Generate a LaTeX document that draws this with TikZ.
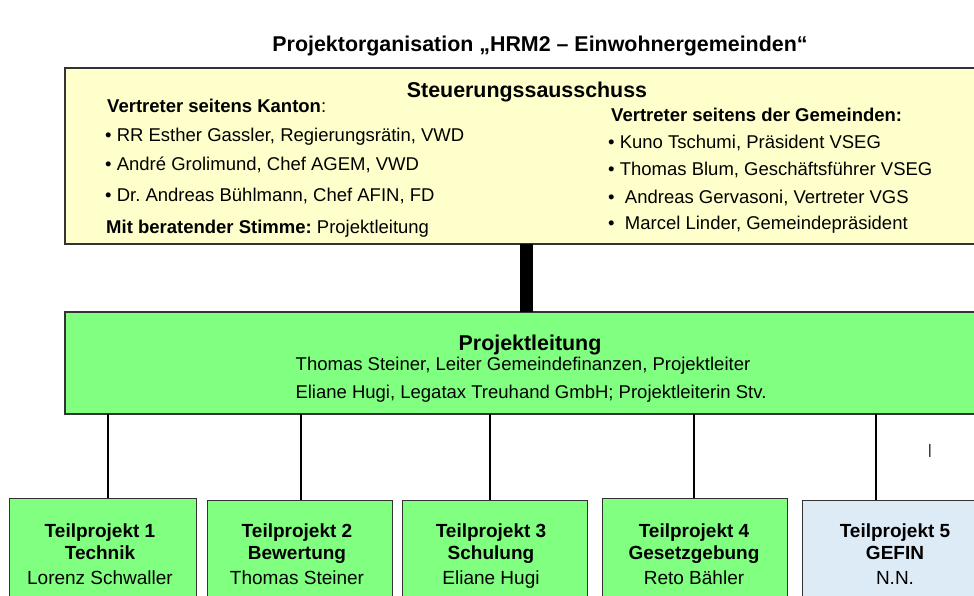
\documentclass[tikz,border=0pt]{standalone}
\usepackage{fontspec}
\setmainfont{Liberation Sans}
\frenchspacing
\definecolor{boxyellow}{HTML}{FFFFCC}
\definecolor{boxgreen}{HTML}{80FF80}
\definecolor{boxblue}{HTML}{DDEBF7}
\definecolor{edgegray}{HTML}{333333}
\begin{document}
\begin{tikzpicture}[x=1pt,y=-1pt,
  frame/.style={draw=edgegray, line width=1.6pt, inner sep=0pt, outer sep=0pt, anchor=north west},
  subbox/.style={draw=edgegray, line width=1pt, inner sep=0pt, outer sep=0pt, anchor=north west, minimum height=110pt},
  body/.style={font=\fontsize{18.5}{22}\selectfont, inner sep=0pt, anchor=base west},
  bodyc/.style={font=\fontsize{18.5}{22}\selectfont, inner sep=0pt, anchor=base},
  head/.style={font=\bfseries\fontsize{21.4}{25}\selectfont, inner sep=0pt, anchor=base},
  subhead/.style={font=\bfseries\fontsize{19}{22}\selectfont, inner sep=0pt, anchor=base},
  subtext/.style={font=\fontsize{19}{22}\selectfont, inner sep=0pt, anchor=base},
  link/.style={line width=2.6pt, black},
  bar/.style={line width=13pt, black}]
\useasboundingbox (0,0) rectangle (974,596);
\fill[white] (0,0) rectangle (974,596);

% title
\node[head] (title) at (540,52) {Projektorganisation „HRM2 – Einwohnergemeinden“};

% Steuerungsausschuss
\node[frame, fill=boxyellow, minimum width=920pt, minimum height=176pt] (st) at (65,68) {};
\node[head] (sttitle) at (527,97.5) {Steuerungssausschuss};
\node[body] (k0) at (107,113) {\textbf{Vertreter seitens Kanton}:};
\node[body] (k1) at (105,141.5) {• RR Esther Gassler, Regierungsrätin, VWD};
\node[body] (k2) at (105,171) {• André Grolimund, Chef AGEM, VWD};
\node[body] (k3) at (105,201) {• Dr.\ Andreas Bühlmann, Chef AFIN, FD};
\node[body] (k4) at (106,233.5) {\textbf{Mit beratender Stimme:} Projektleitung};
\node[body] (g0) at (611,122) {\textbf{Vertreter seitens der Gemeinden:}};
\node[body] (g1) at (608,148.5) {• Kuno Tschumi, Präsident VSEG};
\node[body] (g2) at (608,175.5) {• Thomas Blum, Geschäftsführer VSEG};
\node[body] (g3) at (608,203.5) {•\ \ Andreas Gervasoni, Vertreter VGS};
\node[body] (g4) at (608,229.5) {•\ \ Marcel Linder, Gemeindepräsident};

% Projektleitung
\node[frame, fill=boxgreen, minimum width=920pt, minimum height=102pt] (pl) at (65,312) {};
\node[head] (pltitle) at (530,350) {Projektleitung};
\node[bodyc] (pl1) at (523,370) {Thomas Steiner, Leiter Gemeindefinanzen, Projektleiter};
\node[bodyc] (pl2) at (531,398) {Eliane Hugi, Legatax Treuhand GmbH; Projektleiterin Stv.};

% bar between boxes
\coordinate (barx) at (526.5,0);
\draw[bar] (st.south -| barx) -- (pl.north -| barx);

% Teilprojekte
\node[subbox, fill=boxgreen, minimum width=187pt] (tp1) at (9,498) {};
\node[subbox, fill=boxgreen, minimum width=185pt] (tp2) at (207,500) {};
\node[subbox, fill=boxgreen, minimum width=185pt] (tp3) at (402,500) {};
\node[subbox, fill=boxgreen, minimum width=185pt] (tp4) at (602,498) {};
\node[subbox, fill=boxblue, minimum width=186pt] (tp5) at (802,500) {};

\foreach \i/\x/\a/\b/\c in {1/100/Teilprojekt 1/Technik/Lorenz Schwaller,
                             2/297/Teilprojekt 2/Bewertung/Thomas Steiner,
                             3/491/Teilprojekt 3/Schulung/Eliane Hugi,
                             4/694/Teilprojekt 4/Gesetzgebung/Reto Bähler,
                             5/895/Teilprojekt 5/GEFIN/N.N.}{
  \node[subhead] (tp\i a) at (\x,537) {\a};
  \node[subhead] (tp\i b) at (\x,559) {\b};
  \node[subtext] (tp\i c) at (\x,584) {\c};
}

% connectors
\foreach \i/\x in {1/108,2/301,3/490,4/694,5/876}{
  \coordinate (cx\i) at (\x,0);
  \draw[link] (pl.south -| cx\i) -- (tp\i.north -| cx\i);
}

% stray mark
\node[font=\fontsize{14}{16}\selectfont, inner sep=0pt] (mark) at (930,451) {|};
\end{tikzpicture}
\end{document}
